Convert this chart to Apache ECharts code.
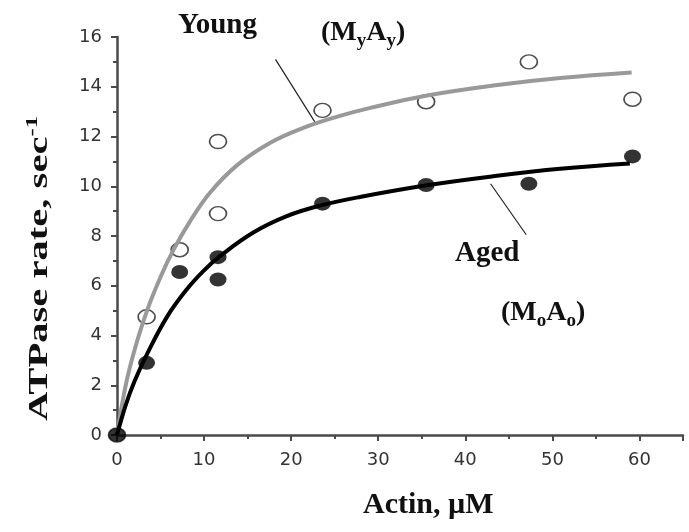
<!DOCTYPE html>
<html>
<head>
<meta charset="utf-8">
<script src="https://cdn.jsdelivr.net/npm/echarts@6/dist/echarts.min.js"></script>
<style>
  html, body { margin: 0; padding: 0; background: #fff; }
  #chart { width: 689px; height: 532px; }
</style>
</head>
<body>
<div id="chart"></div>
<script>
// measured points (x = actin uM, y = ATPase rate)
var youngPts = [[0, 0], [3.4, 4.75], [7.2, 7.45], [11.6, 11.8], [11.6, 8.9], [23.6, 13.05], [35.5, 13.4], [47.3, 15.0], [59.2, 13.5]];
var agedPts  = [[0, 0], [3.4, 2.9], [7.2, 6.55], [11.6, 7.15], [11.6, 6.25], [23.6, 9.3], [35.5, 10.05], [47.3, 10.1], [59.2, 11.2]];

// fitted curves
var youngFit = [[0, 0], [1, 2.0], [2, 3.4], [3.45, 5.0], [5, 6.35], [6.5, 7.45], [8.4, 8.6], [10.7, 9.75], [13.8, 10.85],
                [17.6, 11.75], [21.4, 12.35], [25.3, 12.8], [29.1, 13.15], [35.6, 13.65], [43.2, 14.05], [50.9, 14.35], [59.1, 14.57]];
var agedFit  = [[0, 0], [1, 1.2], [2, 2.15], [3.45, 3.25], [5.74, 4.75], [8, 5.85], [9.94, 6.6], [11.86, 7.2], [15.7, 8.15],
                [19.5, 8.8], [23.3, 9.22], [27.9, 9.57], [35.6, 10.04], [43.2, 10.4], [50.9, 10.7], [58.9, 10.91]];

// annotation pointer lines (data coords)
var youngArrow = [[18.2, 15.1], [22.7, 12.6]];
var agedArrow  = [[47.0, 8.05], [42.9, 10.1]];

var serif = '"Liberation Serif", "Times New Roman", serif';
var axisCol = '#4a4a4a';

var chart = echarts.init(document.getElementById('chart'));

function pointer(pts) {
    return {
        silent: true,
        symbol: ['none', 'arrow'],
        symbolSize: [0, 6],
        label: { show: false },
        lineStyle: { color: '#222', width: 1.2, type: 'solid' },
        data: [[{ coord: pts[0] }, { coord: pts[1] }]]
    };
}

// text with lowered subscripts, e.g. (MyAy)
function subText(left, top, a, b) {
    return {
        type: 'text', left: left, top: top,
        style: {
            text: '({m|M}{s|' + a + '}{m|A}{s|' + b + '})',
            font: 'bold 28px ' + serif, fill: '#111',
            rich: {
                m: { font: 'bold 28px ' + serif, fill: '#111' },
                s: { font: 'bold 19px ' + serif, fill: '#111', padding: [16, 0, 0, 0] }
            }
        }
    };
}

var option = {
    animation: false,
    backgroundColor: '#fff',
    grid: { left: 117, right: 6, top: 37, bottom: 97 },
    xAxis: {
        type: 'value', min: 0, max: 65, interval: 10,
        axisLine: { lineStyle: { color: axisCol, width: 2.5 } },
        axisTick: { length: 6, lineStyle: { color: axisCol, width: 2 } },
        minorTick: { show: true, splitNumber: 2, length: 4, lineStyle: { color: axisCol, width: 2 } },
        splitLine: { show: false },
        axisLabel: {
            margin: 16, color: '#333', fontSize: 18, fontFamily: '"DejaVu Sans", sans-serif',
            formatter: function (v) { return v % 10 === 0 ? v : ''; }
        }
    },
    yAxis: {
        type: 'value', min: 0, max: 16, interval: 2,
        axisLine: { show: true, lineStyle: { color: axisCol, width: 2.5 } },
        axisTick: { show: true, length: 6, lineStyle: { color: axisCol, width: 2 } },
        minorTick: { show: true, splitNumber: 2, length: 4, lineStyle: { color: axisCol, width: 2 } },
        splitLine: { show: false },
        axisLabel: { margin: 15, color: '#333', fontSize: 18, fontFamily: '"DejaVu Sans", sans-serif' }
    },
    series: [
        {
            type: 'scatter', data: youngPts, symbol: 'circle', symbolSize: [17, 14], z: 2,
            itemStyle: { color: 'rgba(0,0,0,0)', borderColor: '#222', borderWidth: 1.6 }
        },
        {
            type: 'line', data: youngFit, smooth: 0.4, showSymbol: false, z: 3,
            lineStyle: { color: '#999', width: 4 },
            markLine: pointer(youngArrow)
        },
        {
            type: 'line', data: agedFit, smooth: 0.4, showSymbol: false, z: 3,
            lineStyle: { color: '#000', width: 4 },
            markLine: pointer(agedArrow)
        },
        {
            type: 'scatter', data: agedPts, symbol: 'circle', symbolSize: [17, 14], z: 4,
            itemStyle: { color: '#000' }
        }
    ],
    graphic: [
        {
            type: 'text', left: 178, top: 11,
            style: { text: 'Young', font: 'bold 29px ' + serif, fill: '#111' }
        },
        subText(321, 19, 'y', 'y'),
        {
            type: 'text', left: 455, top: 239,
            style: { text: 'Aged', font: 'bold 29px ' + serif, fill: '#111' }
        },
        subText(501, 299, 'o', 'o'),
        {
            type: 'text', left: 363, top: 490,
            style: { text: 'Actin, \u00b5M', font: 'bold 30px ' + serif, fill: '#111' }
        },
        {
            type: 'text', x: 24, y: 421, rotation: Math.PI / 2, scaleX: 1.45,
            style: {
                text: 'ATPase rate, sec{sup|-1}',
                font: 'bold 28px ' + serif, fill: '#111',
                rich: { sup: { font: 'bold 17px ' + serif, fill: '#111', padding: [0, 0, 14, 0] } }
            }
        }
    ]
};

chart.setOption(option);
</script>
</body>
</html>
